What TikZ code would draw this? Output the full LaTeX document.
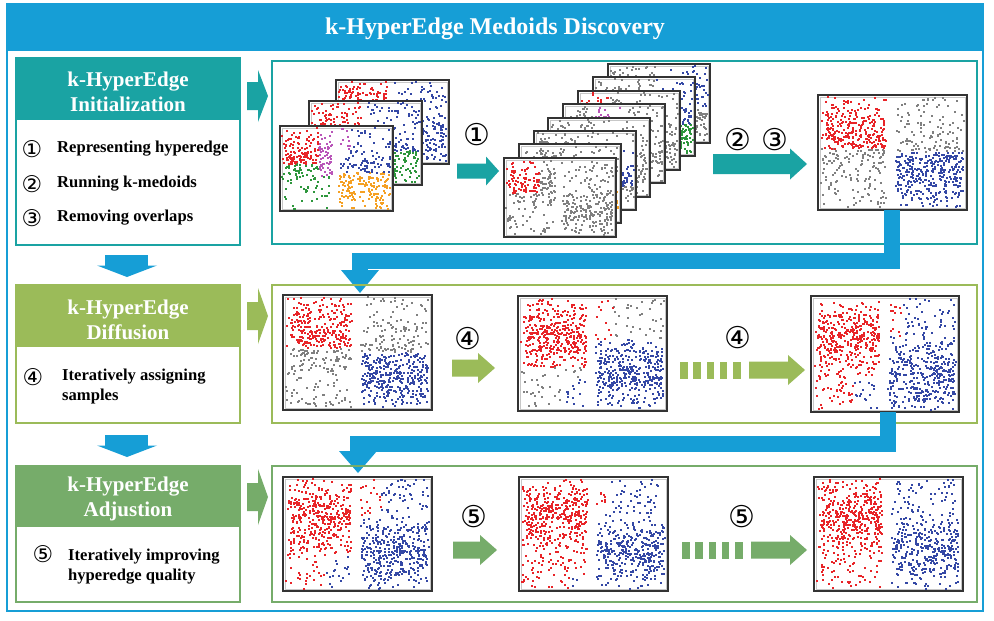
\documentclass[tikz,border=0pt]{standalone}
\usepackage{fontspec}
\setmainfont{Liberation Serif}
\newfontfamily\symf{DejaVu Sans}
\definecolor{tblue}{RGB}{22,158,214}
\definecolor{tealc}{RGB}{26,163,163}
\definecolor{lgreen}{RGB}{155,187,89}
\definecolor{dgreen}{RGB}{118,172,106}
\definecolor{pred}{RGB}{232,36,40}
\definecolor{pblue}{RGB}{52,72,165}
\definecolor{pgray}{RGB}{128,128,128}
\definecolor{pgreen}{RGB}{45,150,60}
\definecolor{porange}{RGB}{245,160,35}
\definecolor{pmag}{RGB}{185,85,185}

% colour rules for the scatter plots
\def\rulA{%
 \ifdim\uu pt<0.5pt
   \ifdim\vv pt<0.45pt
     \ifdim\uu pt<0.34pt \def\dotcol{pred}\else\def\dotcol{pmag}\fi
   \else
     \def\dotcol{pgreen}%
     \ifdim\uu pt>0.34pt \ifdim\vv pt<0.6pt \def\dotcol{pmag}\fi\fi
   \fi
 \else
   \ifdim\vv pt<0.55pt
     \def\dotcol{pblue}%
     \ifdim\uu pt<0.62pt \ifdim\vv pt<0.35pt \def\dotcol{pmag}\fi\fi
   \else \def\dotcol{porange}\fi
 \fi}
\def\rulAm{%
 \ifdim\uu pt<0.5pt
   \ifdim\vv pt<0.5pt \def\dotcol{pred}\else\def\dotcol{pgreen}\fi
 \else
   \def\dotcol{pblue}%
   \ifdim\uu pt>0.72pt \ifdim\vv pt>0.6pt \def\dotcol{pgreen}\fi\fi
 \fi}
\def\rulAb{\ifdim\uu pt<0.5pt \def\dotcol{pred}\else\def\dotcol{pblue}\fi}
\def\rulSa{\def\dotcol{pgray}\ifdim\uu pt<0.32pt \ifdim\vv pt<0.45pt \def\dotcol{pred}\fi\fi}
\def\rulSb{\def\dotcol{pgray}\ifdim\uu pt>0.75pt \ifdim\vv pt>0.6pt \def\dotcol{porange}\fi\fi}
\def\rulSc{\def\dotcol{pgray}\ifdim\uu pt>0.6pt \ifdim\vv pt>0.25pt \ifdim\vv pt<0.7pt \def\dotcol{pblue}\fi\fi\fi}
\def\rulSd{\def\dotcol{pgray}}
\def\rulSe{\def\dotcol{pgray}\ifdim\uu pt>0.3pt \ifdim\uu pt<0.62pt \ifdim\vv pt<0.4pt \def\dotcol{pmag}\fi\fi\fi}
\def\rulSf{\def\dotcol{pgray}\ifdim\uu pt>0.6pt \ifdim\vv pt<0.6pt \def\dotcol{pblue}\else\def\dotcol{pgreen}\fi\fi}
\def\rulSg{\def\dotcol{pgray}\ifdim\uu pt>0.55pt \ifdim\vv pt<0.55pt \def\dotcol{pblue}\fi\fi}
\def\rulD{\def\dotcol{pgray}\ifdim\uu pt<0.5pt \ifdim\vv pt<0.47pt \def\dotcol{pred}\fi\else\ifdim\vv pt>0.5pt \def\dotcol{pblue}\fi\fi}
\def\rulE{%
 \ifdim\uu pt<0.5pt
   \ifdim\vv pt<0.62pt \def\dotcol{pred}\else
     \def\dotcol{pgray}\ifdim\uu pt>0.3pt \ifdim\vv pt>0.72pt \def\dotcol{pblue}\fi\fi\fi
 \else
   \ifdim\vv pt<0.38pt
     \def\dotcol{pgray}\ifdim\uu pt<0.64pt \def\dotcol{pred}\fi
   \else\def\dotcol{pblue}\fi
 \fi}
\def\rulF{%
 \ifdim\uu pt<0.5pt
   \def\dotcol{pred}\ifdim\vv pt>0.72pt \ifdim\uu pt>0.3pt \def\dotcol{pblue}\fi\fi
 \else
   \def\dotcol{pblue}\ifdim\uu pt<0.62pt \ifdim\vv pt<0.35pt \def\dotcol{pred}\fi\fi
 \fi}
\def\rulGa{%
 \ifdim\uu pt<0.5pt
   \def\dotcol{pred}\ifdim\vv pt>0.68pt \ifdim\uu pt>0.28pt \def\dotcol{pblue}\fi\fi
 \else
   \def\dotcol{pblue}\ifdim\uu pt<0.66pt \ifdim\vv pt<0.35pt \def\dotcol{pred}\fi\fi
 \fi}
\def\rulGb{%
 \ifdim\uu pt<0.5pt
   \def\dotcol{pred}\ifdim\vv pt>0.86pt \ifdim\uu pt>0.35pt \def\dotcol{pblue}\fi\fi
 \else
   \def\dotcol{pblue}\ifdim\uu pt<0.58pt \ifdim\vv pt<0.3pt \def\dotcol{pred}\fi\fi
 \fi}
\def\rulGc{\ifdim\uu pt<0.5pt \def\dotcol{pred}\else\def\dotcol{pblue}\fi}

% scatter plot: name, x, y, w, h, rule, count
\newcommand\scatplot[7]{%
 \node[plotbg, minimum width=#4, minimum height=#5] (#1) at (#2,#3) {};
 \begin{scope}[shift={(#2,#3)}]
  \draw[black!22, line width=0.5] (2,2) rectangle (#4-2,#5-2);
  \foreach \k in {1,...,#7}{%
   \pgfmathparse{rnd}\let\sel\pgfmathresult
   \ifdim\sel pt<0.4pt
     \pgfmathparse{rnd}\let\rr\pgfmathresult
     \ifdim\rr pt<0.5pt \pgfmathparse{0.02+0.88*\rr}\else\pgfmathparse{0.52+0.92*(\rr-0.5)}\fi
     \let\uu\pgfmathresult
     \pgfmathparse{0.02+0.96*rnd}\let\vv\pgfmathresult
   \else\ifdim\sel pt<0.7pt
     \pgfmathparse{0.05+0.41*rnd}\let\uu\pgfmathresult
     \pgfmathparse{0.03+0.64*(rnd+rnd)/2}\let\vv\pgfmathresult
   \else
     \pgfmathparse{0.53+0.44*rnd}\let\uu\pgfmathresult
     \pgfmathparse{0.36+0.62*(rnd+rnd)/2}\let\vv\pgfmathresult
   \fi\fi
   \csname rul#6\endcsname
   \pgfsetfillcolor{\dotcol}%
   \pgfpathrectangle{\pgfpointxy{\uu*#4-1}{\vv*#5+1}}{\pgfpoint{2pt}{2pt}}%
   \pgfusepath{fill}%
  }
 \end{scope}
 \draw[plotframe] (#1.north west) rectangle (#1.south east);
}

% horizontal block arrow: x1, x2, yc, body height, head height, head length, colour
\newcommand\harrow[7]{%
 \fill[#7] (#1,#3-#4/2) -- (#2-#6,#3-#4/2) -- (#2-#6,#3-#5/2) -- (#2,#3)
   -- (#2-#6,#3+#5/2) -- (#2-#6,#3+#4/2) -- (#1,#3+#4/2) -- cycle;}
% dashes before a block arrow: x start, yc, height, colour
\newcommand\dashes[4]{%
 \foreach \d in {0,13.3,26.6,39.9,53.2}{\fill[#4] (#1+\d,#2-#3/2) rectangle (#1+\d+7.5,#2+#3/2);}}

\tikzset{
 plotbg/.style={inner sep=0, outer sep=0, anchor=north west, fill=white},
 plotframe/.style={draw=black!80, line width=1.3},
 hdr/.style={text=white, font=\bfseries\fontsize{21}{24.5}\selectfont, align=center},
 item/.style={font=\bfseries\fontsize{16.6}{20}\selectfont, anchor=west, align=left, inner sep=0},
 num/.style={font=\symf\fontsize{23}{23}\selectfont, inner sep=0},
 plab/.style={font=\symf\fontsize{30}{30}\selectfont, inner sep=0},
}

\begin{document}
\begin{tikzpicture}[x=1pt, y=-1pt]
\useasboundingbox (0,0) rectangle (994,621);
\fill[white] (0,0) rectangle (994,621);
\pgfmathsetseed{4242}

% outer frame and title
\fill[tblue] (7,4) rectangle (983,51);
\draw[tblue, line width=1.6] (7,4) rectangle (983,611);
\node[text=white, font=\bfseries\fontsize{24}{24}\selectfont] (title) at (495,29) {k-HyperEdge Medoids Discovery};

% ---------------- row 1 ----------------
\fill[tealc] (16,58) rectangle (240,120);
\draw[tealc, line width=1.5] (16,58) rectangle (240,245);
\node[hdr] (h1) at (128,92) {k-HyperEdge\\Initialization};
\node[num] (n1) at (32,149) {①};
\node[item] (t1) at (57,149) {Representing hyperedge};
\node[num] (n2) at (32,184) {②};
\node[item] (t2) at (57,184) {Running k-medoids};
\node[num] (n3) at (32,218) {③};
\node[item] (t3) at (57,218) {Removing overlaps};
\harrow{247}{268}{96}{28}{52}{10}{tealc}
\draw[tealc, line width=1.5] (272,61) rectangle (977,244);

\scatplot{sb}{336}{80}{113}{84}{Ab}{480}
\scatplot{sm}{309}{101}{113}{84}{Am}{480}
\scatplot{sf}{280}{126}{113}{85}{A}{520}

\harrow{457}{499}{171}{15}{29}{13}{tealc}
\node[plab] (l1) at (477,135) {①};

\scatplot{f7}{608}{64}{102}{79}{Sg}{420}
\scatplot{f6}{593}{77}{102}{79}{Sf}{420}
\scatplot{f5}{578}{91}{102}{79}{Sa}{420}
\scatplot{f4}{563}{104}{102}{79}{Se}{420}
\scatplot{f3}{548}{118}{102}{79}{Sd}{420}
\scatplot{f2}{534}{131}{102}{79}{Sc}{420}
\scatplot{f1}{519}{144}{102}{79}{Sb}{420}
\scatplot{f0}{504}{158}{112}{79}{Sa}{460}

\harrow{713}{807}{164}{20}{31}{17}{tealc}
\node[plab] (l2) at (738,140) {②};
\node[plab] (l3) at (775,140) {③};

\scatplot{c}{818}{95}{149}{115}{D}{880}

% connector 1
\coordinate (c1a) at (892,261);
\coordinate (c1b) at (360,261);
\coordinate (c1c) at (360,272);
\draw[tblue, line width=16] (c.south -| c1a) -- (c1a) -- (c1b) -- (c1c);
\fill[tblue] (341,270) -- (379,270) -- (360,293) -- cycle;

% small arrow left 1
\fill[tblue] (105,255) rectangle (148,266);
\fill[tblue] (97,265.5) -- (157,265.5) -- (127,277) -- cycle;

% ---------------- row 2 ----------------
\fill[lgreen] (16,285) rectangle (240,347);
\draw[lgreen, line width=1.5] (16,285) rectangle (240,423);
\node[hdr] (h2) at (128,320) {k-HyperEdge\\Diffusion};
\node[num] (n4) at (33,377) {④};
\node[item] (t4) at (62,387) {Iteratively assigning\\samples};
\harrow{247}{268}{316}{28}{56}{10}{lgreen}
\draw[lgreen, line width=1.5] (272,285) rectangle (977,423);

\scatplot{d}{283}{295}{149}{115}{D}{880}
\harrow{452}{495}{368}{17}{30}{17}{lgreen}
\node[plab] (l4) at (468,339) {④};
\scatplot{e}{518}{296}{149}{115}{E}{880}
\dashes{680}{370}{17}{lgreen}
\harrow{749}{805}{370}{17}{30}{17}{lgreen}
\node[plab] (l5) at (738,338) {④};
\scatplot{f}{811}{296}{148}{116}{F}{880}

% connector 2
\coordinate (c2a) at (888,444);
\coordinate (c2b) at (358,444);
\coordinate (c2c) at (358,452);
\draw[tblue, line width=16] (f.south -| c2a) -- (c2a) -- (c2b) -- (c2c);
\fill[tblue] (339,451) -- (377,451) -- (358,473) -- cycle;

% small arrow left 2
\fill[tblue] (105,435) rectangle (148,446);
\fill[tblue] (97,445.5) -- (157,445.5) -- (127,457) -- cycle;

% ---------------- row 3 ----------------
\fill[dgreen] (16,466) rectangle (240,527);
\draw[dgreen, line width=1.5] (16,466) rectangle (240,602);
\node[hdr] (h3) at (128,499) {k-HyperEdge\\Adjustion};
\node[num] (n5) at (43,554) {⑤};
\node[item] (t5) at (68,567) {Iteratively improving\\hyperedge quality};
\harrow{247}{268}{497}{28}{56}{10}{dgreen}
\draw[dgreen, line width=1.5] (272,466) rectangle (977,602);

\scatplot{g1}{283}{477}{149}{114}{Ga}{880}
\harrow{453}{497}{550}{17}{30}{17}{dgreen}
\node[plab] (l6) at (474,517) {⑤};
\scatplot{g2}{519}{477}{149}{114}{Gb}{880}
\dashes{682}{550}{17}{dgreen}
\harrow{751}{807}{550}{17}{30}{17}{dgreen}
\node[plab] (l7) at (742,517) {⑤};
\scatplot{g3}{814}{477}{149}{114}{Gc}{880}
\end{tikzpicture}
\end{document}
